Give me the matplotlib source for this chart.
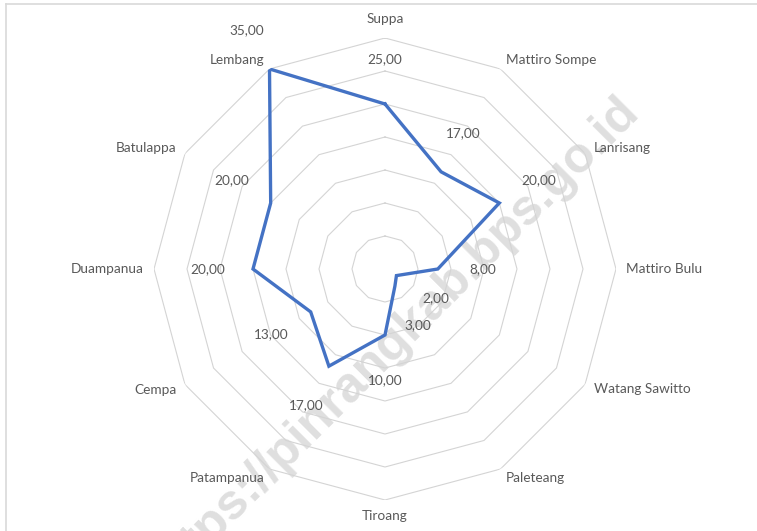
import numpy as np
import matplotlib
matplotlib.use("Agg")
import matplotlib.pyplot as plt
from matplotlib.lines import Line2D

categories = ["Suppa", "Mattiro Sompe", "Lanrisang", "Mattiro Bulu", "Watang Sawitto",
              "Paleteang", "Tiroang", "Patampanua", "Cempa", "Duampanua",
              "Batulappa", "Lembang"]
values = [25, 17, 20, 8, 2, 3, 10, 17, 13, 20, 20, 35]
value_labels = ["25,00", "17,00", "20,00", "8,00", "2,00", "3,00", "10,00",
                "17,00", "13,00", "20,00", "20,00", "35,00"]
ring_levels = [5, 10, 15, 20, 25, 30, 35]
watermark = "https://pinrangkab.bps.go.id"

W, H = 757, 531
fig = plt.figure(figsize=(W / 100, H / 100), dpi=100)
fig.patch.set_facecolor("white")

FONT = ["Lato", "DejaVu Sans"]
TXT = "#595959"

cx, cy, R = 385, 269, 231
ax = fig.add_axes([(cx - R) / W, (H - cy - R) / H, 2 * R / W, 2 * R / H],
                  projection="polar")
ax.set_zorder(1)
ax.set_theta_zero_location("N")
ax.set_theta_direction(-1)
ax.set_ylim(0, 35)
ax.grid(False)
ax.set_xticks([])
ax.set_yticks([])
ax.spines["polar"].set_visible(False)
ax.patch.set_alpha(0)

n = len(categories)
theta = np.arange(n) * 2 * np.pi / n
theta_c = np.concatenate([theta, theta[:1]])

for lv in ring_levels:
    ax.plot(theta_c, [lv] * (n + 1), color="#d4d4d4", lw=0.8, zorder=1)

vals_c = np.concatenate([values, values[:1]])
ax.plot(theta_c, vals_c, color="#4472C4", lw=2.4, zorder=3,
        solid_joinstyle="miter")

for t, v, lab in zip(theta, values, value_labels):
    dx, dy = 45 * np.sin(t), 45 * np.cos(t)
    ax.annotate(lab, (t, v), xytext=(dx, dy), textcoords="offset pixels",
                ha="center", va="center", fontsize=9.8, color=TXT,
                family=FONT, zorder=4)

for t, cat in zip(theta, categories):
    s, c = np.sin(t), np.cos(t)
    if abs(s) < 1e-6:
        ha = "center"
        va = "bottom" if c > 0 else "top"
        off = 13 if c > 0 else 10
    else:
        ha = "left" if s > 0 else "right"
        va = "center"
        off = 10
    ax.annotate(cat, (t, 35), xytext=(off * s, off * c), textcoords="offset pixels",
                ha=ha, va=va, fontsize=9.8, color=TXT, family=FONT, zorder=4,
                annotation_clip=False)

# chart border (top and left visible)
fig.add_artist(Line2D([6 / W, 1.01], [1 - 4 / H, 1 - 4 / H], color="#d9d9d9",
                      lw=1.2, transform=fig.transFigure))
fig.add_artist(Line2D([6 / W, 6 / W], [-0.01, 1 - 4 / H], color="#d9d9d9",
                      lw=1.2, transform=fig.transFigure))

# watermark (behind the chart)
wm = fig.text(394 / W, 1 - 341 / H, watermark, rotation=45, ha="center", va="center",
              fontsize=36, fontweight="bold", color="#dfdfdf",
              family=["Liberation Sans", "DejaVu Sans"], rotation_mode="anchor")
wm.set_zorder(0.5)

fig.savefig("out.png", dpi=100, facecolor="white")
